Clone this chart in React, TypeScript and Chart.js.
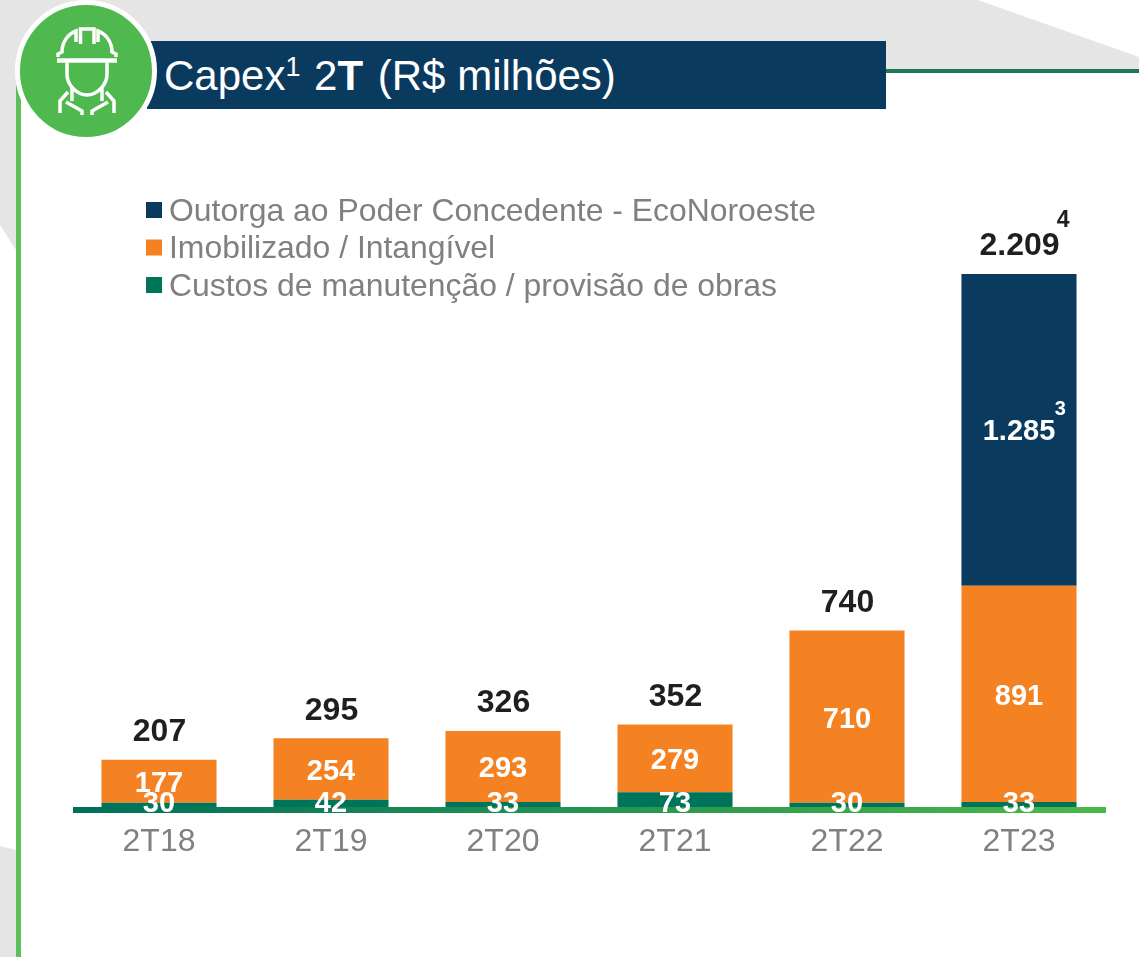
import React, { useEffect, useRef } from "react";
import { Chart, registerables } from "chart.js";

Chart.register(...registerables);

const categories = ["2T18", "2T19", "2T20", "2T21", "2T22", "2T23"];
const custos = [30, 42, 33, 73, 30, 33];
const imobilizado = [177, 254, 293, 279, 710, 891];
const outorga = [0, 0, 0, 0, 0, 1285];
const totals = ["207", "295", "326", "352", "740", "2.209"];
const totalNotes = ["", "", "", "", "", "4"];
const outorgaLabels = ["", "", "", "", "", "1.285"];
const outorgaNotes = ["", "", "", "", "", "3"];
const seriesNames = ["Outorga ao Poder Concedente - EcoNoroeste", "Imobilizado / Intangível", "Custos de manutenção / provisão de obras"];

const NAVY = "#0a3b5f";
const ORANGE = "#f58222";
const GREEN = "#00745a";
const FONT = '"Liberation Sans", Arial, sans-serif';

const overlay = {
  id: "overlay",
  afterDatasetsDraw(chart: any) {
    const { ctx, chartArea, scales } = chart;
    const base = scales.y.getPixelForValue(0);
    ctx.save();
    const grad = ctx.createLinearGradient(chartArea.left, 0, chartArea.right, 0);
    grad.addColorStop(0, "#006f59");
    grad.addColorStop(1, "#4cb848");
    ctx.fillStyle = grad;
    ctx.fillRect(chartArea.left, base - 3, chartArea.right - chartArea.left + 1, 6);

    ctx.textAlign = "center";
    ctx.textBaseline = "middle";
    const sets = chart.data.datasets;
    sets.forEach((ds: any, di: number) => {
      const meta = chart.getDatasetMeta(di);
      meta.data.forEach((bar: any, i: number) => {
        const isOutorga = ds.label === seriesNames[0];
        const text = isOutorga ? outorgaLabels[i] : String(ds.data[i]);
        if (!text) return;
        const isCost = ds.label === seriesNames[2];
        const y = isCost ? base - 6 : (bar.y + bar.base) / 2 + (isOutorga ? 2 : 3);
        ctx.fillStyle = "#ffffff";
        ctx.font = `bold 29px ${FONT}`;
        ctx.fillText(text, bar.x, y);
        if (isOutorga && outorgaNotes[i]) {
          const w = ctx.measureText(text).width;
          ctx.font = `bold 20px ${FONT}`;
          ctx.fillText(outorgaNotes[i], bar.x + w / 2 + 5, y - 22);
        }
      });
    });

    const topMeta = chart.getDatasetMeta(0);
    categories.forEach((_, i) => {
      const bar = topMeta.data[i];
      const top = scales.y.getPixelForValue(custos[i] + imobilizado[i] + outorga[i]);
      ctx.fillStyle = "#1f1f1f";
      ctx.font = `bold 32px ${FONT}`;
      ctx.fillText(totals[i], bar.x + 0.5, top - 27.5);
      if (totalNotes[i]) {
        const w = ctx.measureText(totals[i]).width;
        ctx.font = `bold 23px ${FONT}`;
        ctx.fillText(totalNotes[i], bar.x + w / 2 + 4, top - 53);
      }
    });

    // legend, read from the datasets
    seriesNames.forEach((name, k) => {
      const ds = sets.find((d: any) => d.label === name);
      const y = 210 + k * 37.5;
      ctx.fillStyle = ds.backgroundColor;
      ctx.fillRect(146, y - 8, 16, 16);
      ctx.fillStyle = "#808080";
      ctx.font = `31.9px ${FONT}`;
      ctx.textAlign = "left";
      ctx.fillText(name, 169, y + 2);
    });
    ctx.restore();
  },
};

export default function App() {
  const ref = useRef<HTMLCanvasElement>(null);
  useEffect(() => {
    document.body.style.margin = "0";
    const chart = new Chart(ref.current as HTMLCanvasElement, {
      type: "bar",
      data: {
        labels: categories,
        datasets: [
          { label: seriesNames[2], data: custos, backgroundColor: GREEN, stack: "s" },
          { label: seriesNames[1], data: imobilizado, backgroundColor: ORANGE, stack: "s" },
          { label: seriesNames[0], data: outorga, backgroundColor: NAVY, stack: "s" },
        ],
      },
      options: {
        animation: false,
        responsive: false,
        layout: { padding: { left: 73, right: 34, top: 274, bottom: 0 } },
        datasets: { bar: { barPercentage: 0.669, categoryPercentage: 1 } },
        plugins: { legend: { display: false }, tooltip: { enabled: false }, title: { display: false } },
        scales: {
          x: {
            stacked: true,
            grid: { display: false, drawTicks: false },
            border: { display: false },
            afterFit: (s: any) => { s.height = 147; },
            ticks: { color: "#808080", font: { family: FONT, size: 32 }, padding: 13, maxRotation: 0 },
          },
          y: { stacked: true, display: false, min: 0, max: 2209 },
        },
      },
      plugins: [overlay],
    } as any);
    return () => chart.destroy();
  }, []);

  return (
    <div style={{ position: "relative", width: 1139, height: 957, overflow: "hidden", background: "#fff", fontFamily: FONT }}>
      <svg width={1139} height={957} style={{ position: "absolute", left: 0, top: 0 }}>
        <polygon points="0,0 978,0 1139,57 1139,69 16,69 16,250 0,225" fill="#e5e5e5" />
        <polygon points="0,846 16,850 16,957 0,957" fill="#e5e5e5" />
        <rect x={16} y={80} width={5} height={877} fill="#5cbf5a" />
        <rect x={886} y={69} width={253} height={4} fill="#1a7a55" />
      </svg>
      <canvas ref={ref} width={1139} height={957} style={{ position: "absolute", left: 0, top: 0 }} />
      <div style={{ position: "absolute", left: 147, top: 41, width: 739, height: 68, background: NAVY }} />
      <div style={{ position: "absolute", left: 164, top: 41, height: 68, lineHeight: "70px", fontSize: 42, color: "#fff", whiteSpace: "nowrap" }}>
        Capex<sup style={{ fontSize: 27, lineHeight: 0, verticalAlign: "14px", marginRight: 2 }}>1</sup> 2<b>T</b><span style={{ marginLeft: 3 }}> (R$ milhões)</span>
      </div>
      <svg width={170} height={150} style={{ position: "absolute", left: 0, top: 0 }}>
        <circle cx={86} cy={71} r={68.5} fill="#4fb84e" stroke="#fff" strokeWidth={5} />
        <g fill="none" stroke="#fff" strokeWidth={3.5}>
          <path d="M57,60.5 H117" strokeWidth={4.5} />
          <path d="M58,57 V54 L62,52 C62,42 68,34 76,31 V42" />
          <path d="M116,57 V54 L112,52 C112,42 106,34 98,31 V42" />
          <path d="M80.5,44 V29 H94 V44" />
          <path d="M67,62 V74 C67,86 78,95 87,95 C96,95 107,86 107,74 V62" />
          <path d="M72,88 V101 M102,88 V101" />
          <path d="M68,92 L60,101 V113 M106,92 L114,101 V113" />
          <path d="M66,102 L82,111 V115 M108,102 L92,111 V115" />
        </g>
      </svg>
    </div>
  );
}
